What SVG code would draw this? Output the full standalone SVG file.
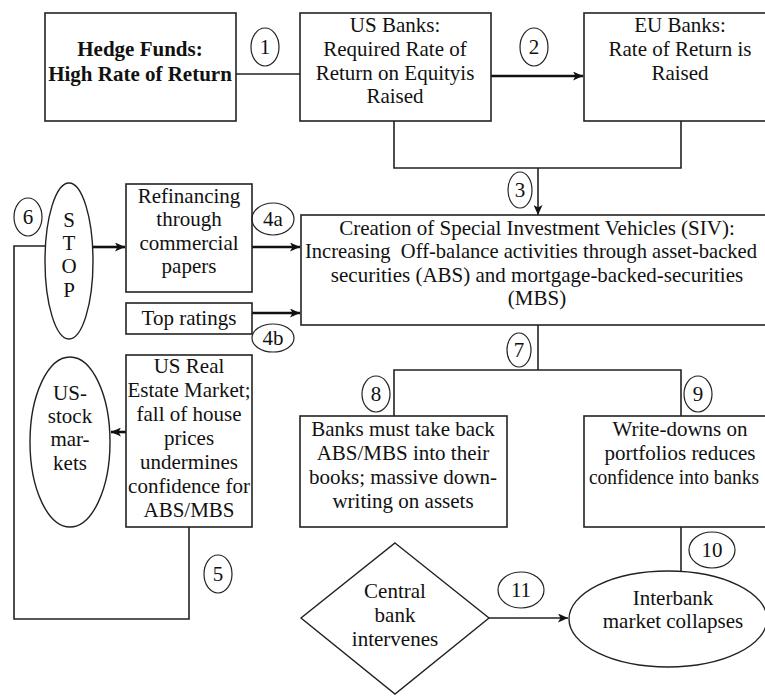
<svg xmlns="http://www.w3.org/2000/svg" width="765" height="696" viewBox="0 0 765 696">
<style>
text{font-family:'Liberation Serif','DejaVu Serif',serif;font-size:21px;fill:#111;text-anchor:middle}
.b{font-weight:bold}
.box{fill:#fff;stroke:#222;stroke-width:1.6}
.num{fill:none;stroke:#222;stroke-width:1.2}
.ell{fill:#fff;stroke:#222;stroke-width:1.4}
.ln{fill:none;stroke:#222;stroke-width:1.6}
.thk{fill:none;stroke:#111;stroke-width:2.6}
</style>
<defs>
<marker id="ah" markerUnits="userSpaceOnUse" markerWidth="10" markerHeight="9" refX="10" refY="4.5" orient="auto">
<path d="M0,0 L10,4.5 L0,9 L2.5,4.5 z" fill="#111"/>
</marker>
</defs>
<rect width="765" height="696" fill="#fff"/>

<g id="connectors">
<line class="ln" x1="236" y1="74" x2="300" y2="74"/>
<line class="thk" x1="491" y1="76" x2="583" y2="76" marker-end="url(#ah)"/>
<polyline class="ln" points="394,121 394,168 681,168 681,121"/>
<line class="ln" x1="538" y1="168" x2="538" y2="215" marker-end="url(#ah)"/>
<line class="thk" x1="93" y1="247" x2="125" y2="247" marker-end="url(#ah)"/>
<line class="thk" x1="252" y1="247" x2="300" y2="247" marker-end="url(#ah)"/>
<line class="thk" x1="252" y1="313" x2="300" y2="313" marker-end="url(#ah)"/>
<line class="thk" x1="126" y1="432" x2="111" y2="432" marker-end="url(#ah)"/>
<polyline class="ln" points="189,527 189,619 14,619 14,246 45,246"/>
<line class="ln" x1="538" y1="325" x2="538" y2="370"/>
<polyline class="ln" points="394,416 394,370 681,370 681,416"/>
<line class="ln" x1="681" y1="527" x2="681" y2="572"/>
<line class="ln" x1="489" y1="618" x2="568" y2="618" marker-end="url(#ah)"/>
</g>

<g id="hedge">
<rect class="box" x="45" y="13" width="191" height="108"/>
<text class="b" x="140" y="56">Hedge Funds:</text>
<text class="b" x="140" y="81">High Rate of Return</text>
</g>
<g id="usbanks">
<rect class="box" x="300" y="13" width="191" height="108"/>
<text x="395" y="32">US Banks:</text>
<text x="395" y="56">Required Rate of</text>
<text x="395" y="80">Return on Equityis</text>
<text x="395" y="103">Raised</text>
</g>
<g id="eubanks">
<rect class="box" x="584" y="13" width="192" height="108"/>
<text x="680" y="32">EU Banks:</text>
<text x="680" y="56">Rate of Return is</text>
<text x="680" y="80">Raised</text>
</g>
<g id="siv">
<rect class="box" x="301" y="215" width="472" height="110"/>
<text x="537" y="235">Creation of Special Investment Vehicles (SIV):</text>
<text x="305" y="258" style="text-anchor:start" textLength="452" lengthAdjust="spacingAndGlyphs" xml:space="preserve">Increasing  Off-balance activities through asset-backed</text>
<text x="537" y="282">securities (ABS) and mortgage-backed-securities</text>
<text x="537" y="305">(MBS)</text>
</g>
<g id="stop">
<ellipse class="ell" cx="69" cy="261" rx="24" ry="78"/>
<text x="69" y="227">S</text>
<text x="69" y="250">T</text>
<text x="69" y="273">O</text>
<text x="69" y="297">P</text>
</g>
<g id="refinancing">
<rect class="box" x="126" y="184" width="126" height="108"/>
<text x="189" y="203">Refinancing</text>
<text x="189" y="226">through</text>
<text x="189" y="250">commercial</text>
<text x="189" y="273">papers</text>
</g>
<g id="topratings">
<rect class="box" x="126" y="303" width="126" height="31"/>
<text x="189" y="325">Top ratings</text>
</g>
<g id="realestate">
<rect class="box" x="126" y="355" width="126" height="172"/>
<text x="189" y="373">US Real</text>
<text x="189" y="397">Estate Market;</text>
<text x="189" y="421">fall of house</text>
<text x="189" y="445">prices</text>
<text x="189" y="469">undermines</text>
<text x="189" y="493">confidence for</text>
<text x="189" y="517">ABS/MBS</text>
</g>
<g id="usstock">
<ellipse class="ell" cx="70" cy="442" rx="40" ry="85"/>
<text x="70" y="400">US-</text>
<text x="70" y="423">stock</text>
<text x="70" y="446">mar-</text>
<text x="70" y="470">kets</text>
</g>
<g id="banksback">
<rect class="box" x="300" y="416" width="207" height="111"/>
<text x="403" y="436">Banks must take back</text>
<text x="403" y="460">ABS/MBS into their</text>
<text x="403" y="484">books; massive down-</text>
<text x="403" y="508">writing on assets</text>
</g>
<g id="writedowns">
<rect class="box" x="584" y="416" width="192" height="111"/>
<text x="680" y="436">Write-downs on</text>
<text x="680" y="460">portfolios reduces</text>
<text x="589" y="484" style="text-anchor:start" textLength="170" lengthAdjust="spacingAndGlyphs">confidence into banks</text>
</g>
<g id="interbank">
<ellipse class="ell" cx="668" cy="619" rx="99" ry="48"/>
<text x="673" y="605">Interbank</text>
<text x="673" y="628">market collapses</text>
</g>
<g id="centralbank">
<polygon class="ell" points="395,543 489,618 395,694 301,618"/>
<text x="395" y="598">Central</text>
<text x="395" y="622">bank</text>
<text x="395" y="646">intervenes</text>
</g>

<g id="num1"><ellipse class="num" cx="265" cy="47" rx="14" ry="19"/><text x="265" y="54">1</text></g>
<g id="num2"><ellipse class="num" cx="534" cy="47" rx="14" ry="19"/><text x="534" y="54">2</text></g>
<g id="num3"><ellipse class="num" cx="520" cy="190" rx="12" ry="18"/><text x="520" y="197">3</text></g>
<g id="num4a"><ellipse class="num" cx="273" cy="219" rx="21" ry="16"/><text x="273" y="226">4a</text></g>
<g id="num4b"><ellipse class="num" cx="273" cy="338" rx="21" ry="14"/><text x="273" y="345">4b</text></g>
<g id="num5"><ellipse class="num" cx="218" cy="574" rx="14" ry="19"/><text x="218" y="581">5</text></g>
<g id="num6"><ellipse class="num" cx="28" cy="217" rx="14" ry="19"/><text x="28" y="224">6</text></g>
<g id="num7"><ellipse class="num" cx="519" cy="350" rx="12" ry="17"/><text x="519" y="357">7</text></g>
<g id="num8"><ellipse class="num" cx="376" cy="394" rx="14" ry="18"/><text x="376" y="401">8</text></g>
<g id="num9"><ellipse class="num" cx="698" cy="394" rx="14" ry="18"/><text x="698" y="401">9</text></g>
<g id="num10"><ellipse class="num" cx="712" cy="550" rx="23" ry="18"/><text x="712" y="557">10</text></g>
<g id="num11"><ellipse class="num" cx="521" cy="590" rx="23" ry="18"/><text x="521" y="597">11</text></g>
</svg>
